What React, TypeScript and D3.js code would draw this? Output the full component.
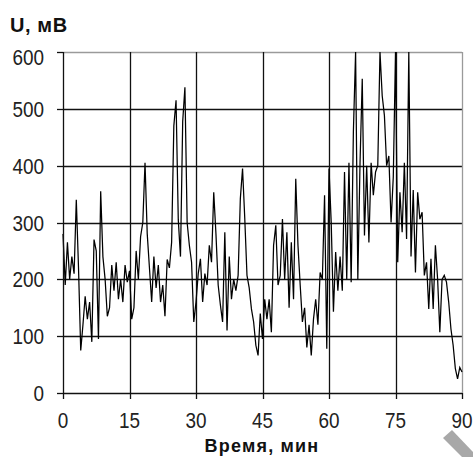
import { useEffect, useRef } from "react";
import * as d3 from "d3";

const minutes: number[] = Array.from({ length: 181 }, (_, i) => i * 0.5);
const voltage: number[] = [
  280, 190, 265, 200, 240, 210, 340, 220, 75, 120,
  170, 130, 160, 90, 270, 250, 95, 355, 240, 200,
  135, 150, 225, 180, 230, 165, 200, 160, 225, 195,
  215, 130, 150, 250, 200, 275, 300, 405, 280, 220,
  160, 240, 185, 225, 160, 190, 135, 235, 220, 265,
  470, 515, 305, 240, 478, 538, 300, 260, 230, 125,
  160, 210, 236, 160, 210, 190, 260, 230, 353, 280,
  190, 155, 125, 283, 110, 240, 165, 200, 180, 207,
  342, 395, 307, 207, 185, 148, 125, 84, 66, 140,
  95, 165, 130, 165, 107, 260, 295, 190, 207, 306,
  200, 283, 150, 265, 165, 377, 260, 190, 125, 150,
  80, 120, 66, 130, 165, 120, 212, 200, 348, 78,
  395, 300, 143, 248, 180, 240, 180, 389, 200, 405,
  195, 460, 600, 200, 405, 553, 277, 400, 265, 405,
  348, 389, 400, 600, 523, 488, 400, 417, 300, 380,
  600, 230, 353, 283, 405, 271, 600, 240, 357, 212,
  353, 306, 318, 207, 230, 148, 236, 148, 260, 200,
  107, 200, 207, 195, 160, 113, 84, 43, 25, 45,
  37,
];
const xTicks: number[] = [0, 15, 30, 45, 60, 75, 90];
const yTicks: number[] = [0, 100, 200, 300, 400, 500, 600];
const yTitle = "U, мВ";
const xTitle = "Время, мин";

export default function App() {
  const svgRef = useRef<SVGSVGElement>(null);

  useEffect(() => {
    if (!svgRef.current) return;
    const root = d3.select(svgRef.current);
    root.selectAll("*").remove();

    const W = 473;
    const H = 457;
    const plot = { left: 63, right: 462, top: 52, bottom: 393 };

    root.attr("width", W).attr("height", H);
    root.append("rect").attr("width", W).attr("height", H).attr("fill", "#fff");

    const x = d3.scaleLinear().domain([0, 90]).range([plot.left, plot.right]);
    const y = d3.scaleLinear().domain([0, 600]).range([plot.bottom, plot.top]);

    const font = "'Liberation Sans', Arial, sans-serif";

    // grid
    root
      .append("g")
      .selectAll("line")
      .data(yTicks.filter((d) => d > 0))
      .enter()
      .append("line")
      .attr("x1", plot.left)
      .attr("x2", plot.right)
      .attr("y1", (d) => Math.round(y(d)) + 0.5)
      .attr("y2", (d) => Math.round(y(d)) + 0.5)
      .attr("stroke", (d) => (d === 600 ? "#9a9a9a" : "#111"))
      .attr("stroke-width", 1.3);

    root
      .append("g")
      .selectAll("line")
      .data(xTicks.filter((d) => d > 0))
      .enter()
      .append("line")
      .attr("x1", (d) => Math.round(x(d)) + 0.5)
      .attr("x2", (d) => Math.round(x(d)) + 0.5)
      .attr("y1", plot.top)
      .attr("y2", plot.bottom)
      .attr("stroke", (d) => (d === 90 ? "#9a9a9a" : "#111"))
      .attr("stroke-width", 1.3);

    // data line
    const line = d3
      .line<number>()
      .x((_, i) => x(minutes[i]))
      .y((d) => y(d));

    root
      .append("path")
      .datum(voltage)
      .attr("d", line)
      .attr("fill", "none")
      .attr("stroke", "#000")
      .attr("stroke-width", 1.25)
      .attr("stroke-linejoin", "miter");

    // axes
    root
      .append("line")
      .attr("x1", plot.left + 0.5)
      .attr("x2", plot.left + 0.5)
      .attr("y1", plot.top)
      .attr("y2", plot.bottom)
      .attr("stroke", "#111")
      .attr("stroke-width", 1.3);
    root
      .append("line")
      .attr("x1", plot.left)
      .attr("x2", plot.right)
      .attr("y1", plot.bottom + 0.5)
      .attr("y2", plot.bottom + 0.5)
      .attr("stroke", "#111")
      .attr("stroke-width", 1.3);

    // tick marks
    root
      .append("g")
      .selectAll("line")
      .data(yTicks)
      .enter()
      .append("line")
      .attr("x1", plot.left - 6)
      .attr("x2", plot.left)
      .attr("y1", (d) => Math.round(y(d)) + 0.5)
      .attr("y2", (d) => Math.round(y(d)) + 0.5)
      .attr("stroke", "#111")
      .attr("stroke-width", 1.3);
    root
      .append("g")
      .selectAll("line")
      .data(xTicks)
      .enter()
      .append("line")
      .attr("x1", (d) => Math.round(x(d)) + 0.5)
      .attr("x2", (d) => Math.round(x(d)) + 0.5)
      .attr("y1", plot.bottom)
      .attr("y2", plot.bottom + 6)
      .attr("stroke", "#111")
      .attr("stroke-width", 1.3);

    // tick labels (narrow, tall digits)
    root
      .append("g")
      .selectAll("text")
      .data(yTicks)
      .enter()
      .append("text")
      .attr(
        "transform",
        (d) => `translate(44,${Math.max(y(d), 57) + 8}) scale(0.86,1)`
      )
      .attr("text-anchor", "end")
      .attr("font-family", font)
      .attr("font-size", 22)
      .attr("fill", "#222")
      .text((d) => String(d));

    root
      .append("g")
      .selectAll("text")
      .data(xTicks)
      .enter()
      .append("text")
      .attr("transform", (d) => `translate(${x(d)},428) scale(0.86,1)`)
      .attr("text-anchor", "middle")
      .attr("font-family", font)
      .attr("font-size", 22)
      .attr("fill", "#222")
      .text((d) => String(d));

    // titles
    root
      .append("text")
      .attr("x", 10)
      .attr("y", 32)
      .attr("font-family", font)
      .attr("font-size", 20)
      .attr("font-weight", "bold")
      .attr("letter-spacing", 0.6)
      .attr("fill", "#111")
      .text(yTitle);

    root
      .append("text")
      .attr("x", 262)
      .attr("y", 452)
      .attr("text-anchor", "middle")
      .attr("font-family", font)
      .attr("font-size", 18)
      .attr("font-weight", "bold")
      .attr("letter-spacing", 1.2)
      .attr("fill", "#111")
      .text(xTitle);

    // grey mark in the corner
    root
      .append("polygon")
      .attr("points", "443,438 452,430 473,452 473,457 462,457")
      .attr("fill", "#a8a8a8");
  }, []);

  return (
    <svg
      ref={svgRef}
      style={{ position: "absolute", left: 0, top: 0, display: "block" }}
    />
  );
}
